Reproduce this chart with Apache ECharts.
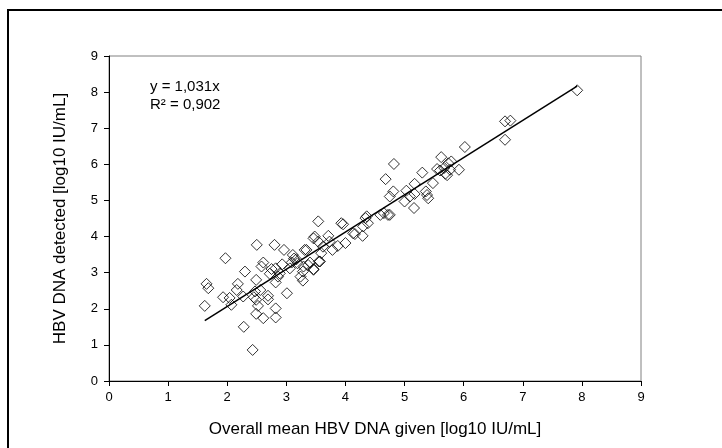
<!DOCTYPE html>
<html>
<head>
<meta charset="utf-8">
<script src="https://cdn.jsdelivr.net/npm/echarts@6/dist/echarts.min.js"></script>
<style>
html,body{margin:0;padding:0;background:#fff;}
#chart{width:722px;height:448px;}
</style>
</head>
<body>
<div id="chart"></div>
<script>
// Measured points: [given, detected]
const givenValues = [
  1.62,1.65,1.68,1.97,1.93,2.07,2.04,2.18,2.16,2.30,2.27,2.28,2.43,2.50,2.49,2.47,2.45,2.49,2.52,2.49,
  2.61,2.58,2.61,2.56,2.69,2.69,2.72,2.75,2.80,2.82,2.82,2.82,2.82,2.96,2.93,2.89,2.86,3.01,3.06,3.09,
  3.11,3.17,3.19,3.24,3.28,3.28,3.34,3.37,3.40,3.46,3.54,3.46,3.54,3.55,3.59,3.62,3.71,3.73,3.78,3.87,
  3.93,3.96,4.00,4.16,4.29,4.30,4.34,4.36,4.38,4.59,4.72,4.75,4.65,4.82,4.68,4.75,4.81,5.03,5.00,5.09,
  5.17,5.17,5.16,5.30,5.36,5.40,5.38,5.48,5.55,5.62,5.60,5.67,5.69,5.74,5.77,5.79,5.72,5.92,6.02,6.70,
  6.79,6.70,7.92,3.48,4.13,3.31,3.13,3.29,3.46,3.57
];
const detectedValues = [
  2.08,2.69,2.57,3.40,2.32,2.11,2.30,2.69,2.52,3.03,2.34,1.50,0.86,3.77,2.80,2.48,2.32,2.25,2.08,1.86,
  1.74,3.17,3.28,2.52,2.36,2.26,2.97,3.10,3.77,3.12,2.73,2.01,1.76,3.63,3.23,2.98,2.89,2.43,3.12,3.28,
  3.49,3.37,3.26,2.89,2.78,3.03,3.63,3.21,3.28,3.10,4.42,3.95,3.86,3.31,3.54,3.72,4.02,3.86,3.63,3.74,
  4.37,4.34,3.82,4.07,4.02,4.28,4.51,4.56,4.37,4.60,4.60,4.60,4.65,6.01,5.59,5.11,5.25,5.27,4.97,5.11,
  5.46,5.18,4.79,5.77,5.25,5.06,5.15,5.48,5.87,6.20,5.83,5.90,5.74,6.03,5.85,6.08,5.70,5.85,6.48,7.19,
  7.21,6.68,8.05,4.00,4.09,3.63,3.39,3.17,3.08,3.31
];
const trendSlope = 1.031;
const trendXRange = [1.62, 7.92];
const axisTicks = [0,1,2,3,4,5,6,7,8,9];
const equationLabels = ['y = 1,031x', 'R² = 0,902'];
const xAxisTitle = 'Overall mean HBV DNA given [log10 IU/mL]';
const yAxisTitle = 'HBV DNA detected [log10 IU/mL]';

const points = givenValues.map((g, i) => [g, detectedValues[i]]);
const trend = trendXRange.map(x => [x, +(trendSlope * x).toFixed(3)]);

const font = 'Liberation Sans, Arial, sans-serif';
const chart = echarts.init(document.getElementById('chart'), null, {renderer: 'canvas'});
chart.setOption({
  animation: false,
  backgroundColor: '#fff',
  grid: {left: 109, top: 56, right: 81, bottom: 67, show: true, borderColor: '#808080', borderWidth: 1},
  xAxis: {
    type: 'value', min: axisTicks[0], max: axisTicks[axisTicks.length - 1], interval: 1,
    splitLine: {show: false},
    axisLine: {lineStyle: {color: '#000', width: 1}},
    axisTick: {show: true, length: 5, lineStyle: {color: '#000'}},
    axisLabel: {color: '#000', fontFamily: font, fontSize: 13, margin: 10},
    name: xAxisTitle, nameLocation: 'middle', nameGap: 40,
    nameTextStyle: {color: '#000', fontFamily: font, fontSize: 17}
  },
  yAxis: {
    type: 'value', min: axisTicks[0], max: axisTicks[axisTicks.length - 1], interval: 1,
    splitLine: {show: false},
    axisLine: {lineStyle: {color: '#000', width: 1}},
    axisTick: {show: true, length: 5, lineStyle: {color: '#000'}},
    axisLabel: {color: '#000', fontFamily: font, fontSize: 13, margin: 11},
    name: yAxisTitle, nameLocation: 'middle', nameGap: 40, nameRotate: 90,
    nameTextStyle: {color: '#000', fontFamily: font, fontSize: 17}
  },
  graphic: [
    {type: 'rect', shape: {x: 8, y: 10, width: 800, height: 500}, style: {fill: 'none', stroke: '#000', lineWidth: 2}, silent: true},
    {type: 'text', left: 150, top: 78, style: {text: equationLabels.join('\n'), fill: '#000', font: '15px ' + font, lineHeight: 18}}
  ],
  series: [
    {
      type: 'scatter', data: points, symbol: 'diamond', symbolSize: 11,
      itemStyle: {color: 'transparent', borderColor: '#000', borderWidth: 1},
      z: 3
    },
    {
      type: 'line', data: trend, symbol: 'none', lineStyle: {color: '#000', width: 1.5}, z: 4
    }
  ]
});
</script>
</body>
</html>
